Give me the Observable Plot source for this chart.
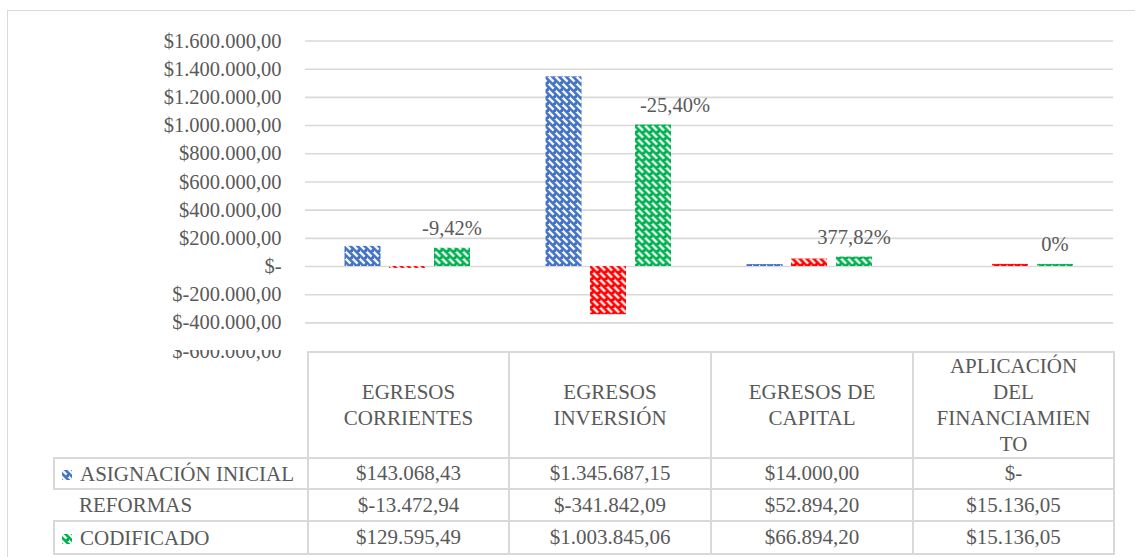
<!DOCTYPE html>
<html>
<head>
<meta charset="utf-8">
<script src="https://cdn.jsdelivr.net/npm/d3@7"></script>
<script src="https://cdn.jsdelivr.net/npm/@observablehq/plot@0.6"></script>
<style>
  body { margin: 0; background: #fff; }
  #wrap { position: relative; width: 1135px; height: 557px; overflow: hidden; background: #fff;
          font-family: "Liberation Serif", Tinos, "Times New Roman", "DejaVu Serif", serif; color: #595959; }
  #frame { position: absolute; left: 7px; top: 10px; width: 1200px; height: 600px;
           border-top: 1.5px solid #d9d9d9; border-left: 1.5px solid #d9d9d9; }
  #chart { position: absolute; left: 0; top: 0; }
  #mask { position: absolute; left: 140px; top: 336px; width: 160px; height: 14px; background: #fff; }
  table { position: absolute; left: 53px; top: 351px; border-collapse: collapse; table-layout: fixed;
          font-size: 21px; color: #595959; background: transparent;
          font-family: "Liberation Serif", Tinos, "Times New Roman", "DejaVu Serif", serif; }
  td { border: 2px solid #d9d9d9; text-align: center; padding: 0; white-space: nowrap; }
  td.hdr { line-height: 26px; vertical-align: middle; }
  td.lab { text-align: left; padding-left: 7px; }
  td.corner { border: none; }
  td.noleft { border-left: none; }
  .key { display: inline-block; width: 10px; height: 10px; margin-right: 8px; vertical-align: 1px; }
</style>
</head>
<body>
<div id="wrap">
  <div id="frame"></div>
  <div id="chart"></div>
  <div id="mask"></div>
  <table id="tbl"></table>
</div>
<script>
// ---- data ----
const categories = ["EGRESOS CORRIENTES", "EGRESOS INVERSIÓN", "EGRESOS DE CAPITAL", "APLICACIÓN DEL FINANCIAMIENTO"];
const headerLines = [["EGRESOS", "CORRIENTES"], ["EGRESOS", "INVERSIÓN"], ["EGRESOS DE", "CAPITAL"], ["APLICACIÓN", "DEL", "FINANCIAMIEN", "TO"]];
const seriesNames = ["ASIGNACIÓN INICIAL", "REFORMAS", "CODIFICADO"];
const asignacion = [143068.43, 1345687.15, 14000.00, 0];
const reformas = [-13472.94, -341842.09, 52894.20, 15136.05];
const codificado = [129595.49, 1003845.06, 66894.20, 15136.05];
const pctLabels = ["-9,42%", "-25,40%", "377,82%", "0%"];
const yTicks = [-600000, -400000, -200000, 0, 200000, 400000, 600000, 800000, 1000000, 1200000, 1400000, 1600000];
const seriesColors = ["#4472C4", "#FF0000", "#00B050"];

// ---- formatting ----
const loc = d3.formatLocale({decimal: ",", thousands: ".", grouping: [3], currency: ["$", ""], minus: "-"});
const f2 = loc.format(",.2f");
const money = v => v === 0 ? "$-" : "$" + f2(v);

const rows = categories.map((c, i) => ({cat: c, a: asignacion[i], r: reformas[i], c2: codificado[i], pct: pctLabels[i]}));
const seriesValues = [asignacion, reformas, codificado];
const serifStack = "'Liberation Serif', Tinos, 'Times New Roman', 'DejaVu Serif', serif";

const inset = 82.5;
const plot = Plot.plot({
  width: 1135,
  height: 362,
  marginLeft: 305,
  marginRight: 22,
  marginTop: 30,
  marginBottom: 10,
  x: {domain: categories, range: [307, 1113], padding: 0, axis: null},
  y: {domain: [-600000, 1600000], range: [350.6, 40.5], ticks: yTicks, tickFormat: money, tickSize: 0, tickPadding: 24, label: null},
  style: {fontFamily: serifStack, fontSize: "20.5px", color: "#595959", background: "transparent"},
  marks: [
    Plot.ruleY(yTicks.slice(1), {stroke: "#d9d9d9", strokeWidth: 1.6}),
    Plot.barY(rows, {x: "cat", y: "a", fill: "url(#pat0)", insetLeft: inset, insetRight: inset, dx: -46}),
    Plot.barY(rows, {x: "cat", y: "r", fill: "url(#pat1)", insetLeft: inset, insetRight: inset, dx: -1.5}),
    Plot.barY(rows, {x: "cat", y: "c2", fill: "url(#pat2)", insetLeft: inset, insetRight: inset, dx: 43.5}),
    Plot.text(rows.filter((d, i) => i !== 1), {x: "cat", y: "c2", text: "pct", dx: 43, dy: -20, fill: "#595959"}),
    Plot.text(rows.filter((d, i) => i === 1), {x: "cat", y: "c2", text: "pct", dx: 65, dy: -20, fill: "#595959"})
  ]
});
d3.select(plot).selectAll("text").style("font-family", serifStack);

// patterns: dashed diagonal white stripes on the series colour
const svg = d3.select(plot);
const defs = svg.insert("defs", ":first-child");
seriesColors.forEach((col, i) => {
  const p = defs.append("pattern").attr("id", "pat" + i).attr("patternUnits", "userSpaceOnUse")
    .attr("width", 7).attr("height", 7);
  p.append("rect").attr("width", 7).attr("height", 7).attr("fill", col);
  p.append("path").attr("d", "M-1,-1L4.6,4.6M6,-1L8,1M-1,6L1,8")
    .attr("stroke", "#fff").attr("stroke-width", 2.4).attr("stroke-linecap", "butt").attr("opacity", 0.92);
});
document.getElementById("chart").appendChild(plot);

// ---- table ----
const tbl = d3.select("#tbl");
const cg = tbl.append("colgroup");
[254, 201, 202, 202, 201].forEach(w => cg.append("col").style("width", w + "px"));
const hr = tbl.append("tr").style("height", "104px");
hr.append("td").attr("class", "corner");
headerLines.forEach(lines => hr.append("td").attr("class", "hdr").html(lines.join("<br>")));
const rowHeights = [31, 32, 33];
seriesNames.forEach((name, si) => {
  const tr = tbl.append("tr").style("height", rowHeights[si] + "px");
  const td = tr.append("td").attr("class", "lab" + (si === 1 ? " noleft" : ""));
  const key = td.append("span").attr("class", "key");
  if (si !== 1) {
    key.append("svg").attr("width", 10).attr("height", 10)
      .append("rect").attr("width", 10).attr("height", 10).attr("fill", `url(#pat${si})`);
  }
  td.append("span").text(name);
  seriesValues[si].forEach(v => tr.append("td").text(money(v)));
});
</script>
</body>
</html>
